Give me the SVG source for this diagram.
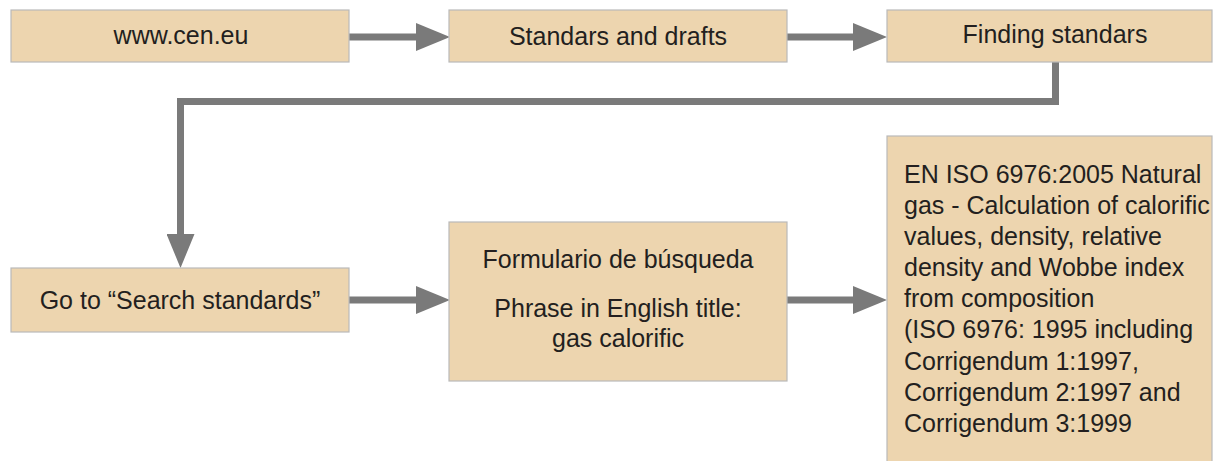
<svg xmlns="http://www.w3.org/2000/svg" width="1214" height="461" viewBox="0 0 1214 461">
  <style>
    .box { fill: #EDD5AF; stroke: #B9B9B9; stroke-width: 1.2; }
    .lbl { font-family: "Liberation Sans", Arial, sans-serif; font-size: 25px; fill: #231F20; }
    .mid { text-anchor: middle; }
    .conn { fill: none; stroke: #7A7A7A; stroke-width: 7; stroke-linejoin: miter; marker-end: url(#head); }
  </style>
  <defs>
    <marker id="head" markerUnits="userSpaceOnUse" viewBox="0 0 34 28" refX="4" refY="14" markerWidth="34" markerHeight="28" orient="auto">
      <path d="M0,0 L34,14 L0,28 z" fill="#7A7A7A"/>
    </marker>
  </defs>

  <rect width="1214" height="461" fill="#FFFFFF"/>

  <!-- connectors -->
  <g id="connectors">
    <path class="conn" d="M349,37 H420"/>
    <path class="conn" d="M787,37 H857"/>
    <path class="conn" d="M1055.5,62 V101.5 H180.5 V238"/>
    <path class="conn" d="M349,300 H420"/>
    <path class="conn" d="M787,300 H857"/>
  </g>

  <g id="node-cen">
    <rect class="box" x="11" y="10" width="338" height="52"/>
    <text class="lbl mid" x="181" y="44">www.cen.eu</text>
  </g>

  <g id="node-drafts">
    <rect class="box" x="449" y="10" width="338" height="52"/>
    <text class="lbl mid" x="618" y="45">Standars and drafts</text>
  </g>

  <g id="node-finding">
    <rect class="box" x="887" y="10" width="325" height="52"/>
    <text class="lbl mid" x="1055" y="43">Finding standars</text>
  </g>

  <g id="node-search">
    <rect class="box" x="11" y="268" width="338" height="64"/>
    <text class="lbl mid" x="180" y="309">Go to “Search standards”</text>
  </g>

  <g id="node-form">
    <rect class="box" x="449" y="222" width="338" height="159"/>
    <text class="lbl mid" x="618" y="268">Formulario de búsqueda</text>
    <text class="lbl mid" x="618" y="317">Phrase in English title:</text>
    <text class="lbl mid" x="618" y="347">gas calorific</text>
  </g>

  <g id="node-result">
    <rect class="box" x="887" y="136" width="325" height="330"/>
    <text class="lbl" x="904" y="183">EN ISO 6976:2005 Natural</text>
    <text class="lbl" x="904" y="214">gas - Calculation of calorific</text>
    <text class="lbl" x="904" y="245">values, density, relative</text>
    <text class="lbl" x="904" y="276">density and Wobbe index</text>
    <text class="lbl" x="904" y="307">from composition</text>
    <text class="lbl" x="904" y="338">(ISO 6976: 1995 including</text>
    <text class="lbl" x="904" y="370">Corrigendum 1:1997,</text>
    <text class="lbl" x="904" y="401">Corrigendum 2:1997 and</text>
    <text class="lbl" x="904" y="432">Corrigendum 3:1999</text>
  </g>
</svg>
